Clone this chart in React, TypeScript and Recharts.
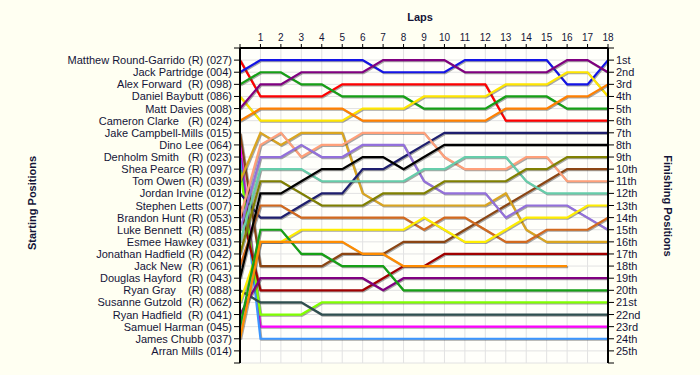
import React from 'react';
import { LineChart, Line, XAxis, YAxis, CartesianGrid } from 'recharts';

const laps = [0, 1, 2, 3, 4, 5, 6, 7, 8, 9, 10, 11, 12, 13, 14, 15, 16, 17, 18];
const positionTicks = [0, 1, 2, 3, 4, 5, 6, 7, 8, 9, 10, 11, 12, 13, 14, 15, 16, 17, 18, 19, 20, 21, 22, 23, 24, 25, 26];

const startLabels = [
  'Matthew Round-Garrido (R) (027)',
  'Jack Partridge (004)',
  'Alex Forward  (R) (098)',
  'Daniel Baybutt (086)',
  'Matt Davies (008)',
  'Cameron Clarke   (R) (024)',
  'Jake Campbell-Mills (015)',
  'Dino Lee (064)',
  'Denholm Smith   (R) (023)',
  'Shea Pearce (R) (097)',
  'Tom Owen (R) (039)',
  'Jordan Irvine (012)',
  'Stephen Letts (007)',
  'Brandon Hunt (R) (053)',
  'Luke Bennett  (R) (085)',
  'Esmee Hawkey (031)',
  'Jonathan Hadfield (R) (042)',
  'Jack New  (R) (061)',
  'Douglas Hayford  (R) (043)',
  'Ryan Gray    (R) (088)',
  'Susanne Gutzold  (R) (062)',
  'Ryan Hadfield  (R) (041)',
  'Samuel Harman (045)',
  'James Chubb (037)',
  'Arran Mills (014)',
];

const finishLabels = [
  '1st', '2nd', '3rd', '4th', '5th', '6th', '7th', '8th', '9th', '10th',
  '11th', '12th', '13th', '14th', '15th', '16th', '17th', '18th', '19th', '20th',
  '21st', '22nd', '23rd', '24th', '25th',
];

// positions per lap (lap 0 = grid)
const d01 = [1, 4, 4, 4, 4, 3, 3, 3, 3, 3, 3, 3, 3, 6, 6, 6, 6, 6, 6];
const d02 = [2, 1, 1, 1, 1, 1, 1, 2, 2, 2, 2, 1, 1, 1, 1, 1, 3, 3, 1];
const d03 = [3, 2, 2, 3, 3, 4, 4, 4, 4, 5, 5, 5, 5, 4, 4, 4, 5, 5, 5];
const d04 = [4, 6, 6, 6, 6, 6, 5, 5, 5, 4, 4, 4, 4, 3, 3, 3, 2, 2, 4];
const d05 = [5, 3, 3, 2, 2, 2, 2, 1, 1, 1, 1, 2, 2, 2, 2, 2, 1, 1, 2];
const d06 = [6, 5, 5, 5, 5, 5, 6, 6, 6, 6, 6, 6, 6, 5, 5, 5, 4, 4, 3];
const d07 = [7, 18, 18, 18, 18, 17, 17, 17, 16, 16, 16, 15, 14, 13, 12, 11, 10, 10, 10];
const d08 = [8, 23, 23, 23, 23, 23, 23, 23, 23, 23, 23, 23, 23, 23, 23, 23, 23, 23, 23];
const d09 = [9, 24, 24, 24, 24, 24, 24, 24, 24, 24, 24, 24, 24, 24, 24, 24, 24, 24, 24];
const d10 = [10, 22, 22, 22, 21, 21, 21, 21, 21, 21, 21, 21, 21, 21, 21, 21, 21, 21, 21];
const d11 = [11, 7, 8, 7, 7, 7, 12, 13, 13, 13, 13, 13, 13, 12, 15, 16, 16, 16, 16];
const d12 = [12, 14, 14, 13, 12, 12, 10, 10, 9, 8, 7, 7, 7, 7, 7, 7, 7, 7, 7];
const d13 = [13, 20, 20, 20, 20, 20, 20, 19, 18, 18, 17, 17, 17, 17, 17, 17, 17, 17, 17];
const d14 = [14, 8, 7, 9, 8, 8, 7, 7, 7, 7, 9, 10, 10, 10, 9, 9, 11, 11, 11];
const d15 = [15, 9, 9, 8, 9, 9, 8, 8, 8, 11, 12, 12, 12, 14, 13, 13, 13, 14, 15];
const d16 = [16, 10, 10, 10, 11, 11, 11, 11, 11, 10, 10, 9, 9, 9, 11, 12, 12, 12, 12];
const d17 = [17, 11, 11, 12, 13, 13, 13, 12, 12, 12, 11, 11, 11, 11, 10, 10, 9, 9, 9];
const d18 = [18, 13, 13, 14, 14, 14, 14, 14, 14, 15, 14, 14, 15, 16, 16, 15, 15, 15, 14];
const d19 = [19, 12, 12, 11, 10, 10, 9, 9, 10, 9, 8, 8, 8, 8, 8, 8, 8, 8, 8];
const d20 = [20, 21, 21, 21, 22, 22, 22, 22, 22, 22, 22, 22, 22, 22, 22, 22, 22, 22, 22];
const d21 = [21, 16, 16, 15, 15, 15, 15, 15, 15, 14, 15, 16, 16, 15, 14, 14, 14, 13, 13];
const d22 = [22, 19, 19, 19, 19, 19, 19, 20, 19, 19, 19, 19, 19, 19, 19, 19, 19, 19, 19];
const d23 = [23, 15, 15, 17, 17, 18, 18, 18, 20, 20, 20, 20, 20, 20, 20, 20, 20, 20, 20];
const d24 = [24, 16, 16, 16, 16, 16, 17, 17, 18, 18, 18, 18, 18, 18, 18, 18, 18, null, null];

const driverSeries = [d01, d02, d03, d04, d05, d06, d07, d08, d09, d10, d11, d12, d13, d14, d15, d16, d17, d18, d19, d20, d21, d22, d23, d24];
const driverColors = [
  '#ff0000', '#1414e6', '#16a016', '#ffe600', '#800080', '#ff8000',
  '#8b4513', '#ff00ff', '#3c96ff', '#80ff00', '#daa520', '#1e1e6e',
  '#a00000', '#ffa07a', '#9370db', '#66cdaa', '#808000', '#d2691e',
  '#000000', '#2f4f4f', '#ffee00', '#800080', '#16a016', '#ff8c00',
];

const rows = laps.map((lap, i) => {
  const row: Record<string, number | null> = { lap };
  driverSeries.forEach((s, k) => {
    row['d' + k] = s[i];
  });
  return row;
});

const FONT = '"Liberation Sans", Arial, sans-serif';
const TEXT = '#141438';

const LeftTick = (props: any) => {
  const { x, y, payload } = props;
  const label = startLabels[payload.value - 1] || '';
  return (
    <text x={x} y={y} dy={4} textAnchor="end" fontSize={11} fill={TEXT} fontFamily={FONT} style={{ whiteSpace: 'pre' }}>
      {label}
    </text>
  );
};

const RightTick = (props: any) => {
  const { x, y, payload } = props;
  const label = finishLabels[payload.value - 1] || '';
  return (
    <text x={x} y={y} dy={4} textAnchor="start" fontSize={11} fill={TEXT} fontFamily={FONT}>
      {label}
    </text>
  );
};

const TopTick = (props: any) => {
  const { x, y, payload } = props;
  const label = payload.value === 0 ? '' : String(payload.value);
  return (
    <text x={x} y={y} dy={-1} textAnchor="middle" fontSize={10} fill={TEXT} fontFamily={FONT}>
      {label}
    </text>
  );
};

export default function App() {
  return (
    <div style={{ position: 'absolute', left: 0, top: 0, width: 700, height: 375, background: '#fffff2', overflow: 'hidden' }}>
      <style>{`.recharts-line-curve { filter: drop-shadow(1px 1.5px 0px rgba(60,60,60,0.45)); }`}</style>
      <LineChart width={700} height={375} data={rows} margin={{ top: 28, right: 32, bottom: 12, left: 40 }}>
        <CartesianGrid yAxisId="left" stroke="#e2e2e2" fill="#fffffb" strokeWidth={1} />
        <XAxis
          dataKey="lap"
          type="number"
          orientation="top"
          domain={[0, 18]}
          ticks={laps}
          interval={0}
          height={20}
          tickSize={4}
          tickMargin={2}
          tick={<TopTick />}
          axisLine={{ stroke: '#000', strokeWidth: 2 }}
          tickLine={{ stroke: '#000' }}
          allowDataOverflow
        />
        <YAxis
          yAxisId="left"
          orientation="left"
          type="number"
          domain={[0, 26]}
          reversed
          ticks={positionTicks}
          interval={0}
          width={200}
          tickSize={6}
          tickMargin={2}
          tick={<LeftTick />}
          axisLine={{ stroke: '#000', strokeWidth: 2 }}
          tickLine={{ stroke: '#000' }}
          allowDataOverflow
        />
        <YAxis
          yAxisId="right"
          orientation="right"
          type="number"
          domain={[0, 26]}
          reversed
          ticks={positionTicks}
          interval={0}
          width={60}
          tickSize={6}
          tickMargin={2}
          tick={<RightTick />}
          axisLine={{ stroke: '#000', strokeWidth: 2 }}
          tickLine={{ stroke: '#000' }}
          allowDataOverflow
        />
        {driverSeries.map((_, k) => (
          <Line
            key={k}
            yAxisId="left"
            type="linear"
            dataKey={'d' + k}
            stroke={driverColors[k]}
            strokeWidth={2.2}
            dot={false}
            activeDot={false}
            isAnimationActive={false}
            connectNulls={false}
          />
        ))}
      </LineChart>
      <div style={{ position: 'absolute', left: 400, top: 11, width: 40, textAlign: 'center', fontFamily: FONT, fontWeight: 'bold', fontSize: 11, color: TEXT }}>
        Laps
      </div>
      <div style={{ position: 'absolute', left: 32, top: 205, width: 0, height: 0 }}>
        <div style={{ position: 'absolute', left: -70, top: -8, width: 140, textAlign: 'center', transform: 'rotate(-90deg)', fontFamily: FONT, fontWeight: 'bold', fontSize: 11, color: TEXT }}>
          Starting Positions
        </div>
      </div>
      <div style={{ position: 'absolute', left: 668, top: 208, width: 0, height: 0 }}>
        <div style={{ position: 'absolute', left: -70, top: -8, width: 140, textAlign: 'center', transform: 'rotate(90deg)', fontFamily: FONT, fontWeight: 'bold', fontSize: 11, color: TEXT }}>
          Finishing Positions
        </div>
      </div>
    </div>
  );
}
